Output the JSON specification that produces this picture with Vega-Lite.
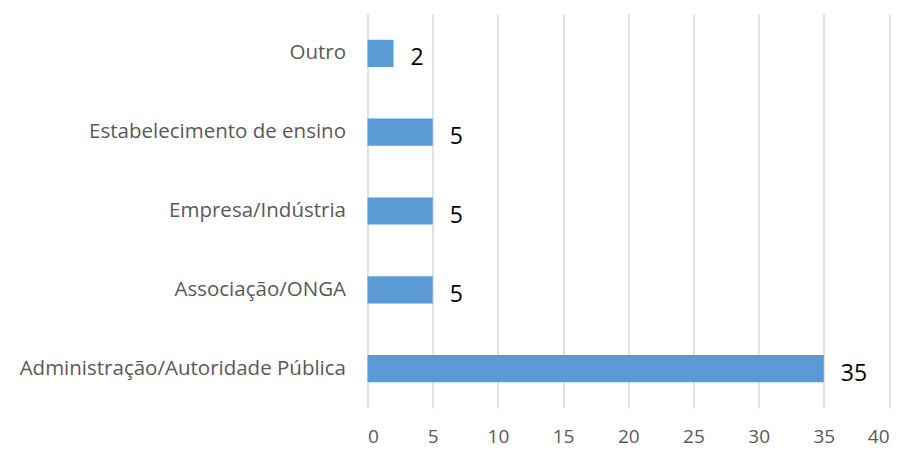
{
  "$schema": "https://vega.github.io/schema/vega-lite/v6.json",
  "autosize": "none",
  "width": 521.5,
  "height": 394,
  "padding": {"left": 367.5, "top": 14, "right": 17, "bottom": 42},
  "background": "white",
  "config": {"view": {"stroke": null}, "font": "Open Sans"},
  "data": {
    "values": [
      {"categoria": "Outro", "valor": 2},
      {"categoria": "Estabelecimento de ensino", "valor": 5},
      {"categoria": "Empresa/Indústria", "valor": 5},
      {"categoria": "Associação/ONGA", "valor": 5},
      {"categoria": "Administração/Autoridade Pública", "valor": 35}
    ]
  },
  "encoding": {
    "y": {
      "field": "categoria",
      "type": "nominal",
      "sort": null,
      "scale": {"paddingInner": 0.655, "paddingOuter": 0.3275},
      "axis": {
        "title": null,
        "domain": false,
        "ticks": false,
        "labelPadding": 22,
        "labelFontSize": 20.5,
        "labelColor": "#595959",
        "labelFont": "Open Sans",
        "labelLimit": 400
      }
    },
    "x": {
      "field": "valor",
      "type": "quantitative",
      "scale": {"domain": [0, 40], "nice": false},
      "axis": {
        "title": null,
        "values": [0, 5, 10, 15, 20, 25, 30, 35, 40],
        "domain": false,
        "ticks": false,
        "grid": true,
        "gridColor": "#D9D9D9",
        "gridWidth": 1.5,
        "labelPadding": 19,
        "labelFontSize": 19,
        "labelColor": "#595959",
        "labelFont": "Open Sans"
      }
    }
  },
  "layer": [
    {"mark": {"type": "bar", "color": "#5B9BD5"}},
    {
      "mark": {"type": "text", "align": "left", "baseline": "middle", "dx": 17, "dy": 5, "fontSize": 23, "color": "#000000", "font": "Open Sans"},
      "encoding": {"text": {"field": "valor", "type": "quantitative"}}
    }
  ]
}
